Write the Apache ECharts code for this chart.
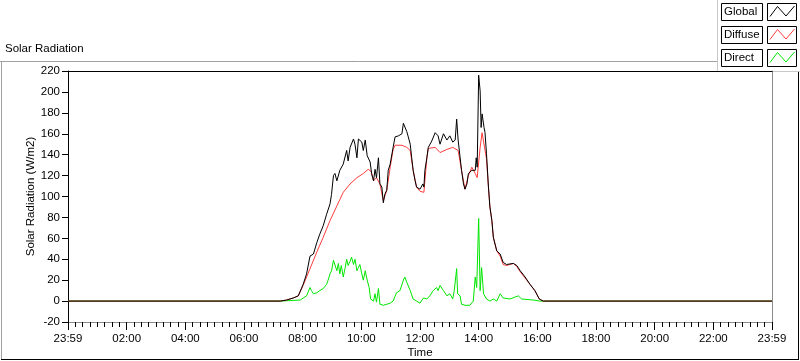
<!DOCTYPE html>
<html><head><meta charset="utf-8">
<script src="https://cdn.jsdelivr.net/npm/echarts@6/dist/echarts.min.js"></script>
<style>html,body{margin:0;padding:0;background:#fff}#c{width:800px;height:361px}</style>
</head><body><div id="c"></div>
<script>
// time in minutes after 23:59 (0 = 23:59, 1440 = 23:59 next)
const xTickLabels = ['23:59','02:00','04:00','06:00','08:00','10:00','12:00','14:00','16:00','18:00','20:00','22:00','23:59'];
const yTicks = [-20,0,20,40,60,80,100,120,140,160,180,200,220];

const globalT = [0,434,447,461,471,481,488,495,502,509,515,522,529,536,539,543,546,550,556,563,570,573,577,584,587,591,594,601,604,608,612,618,621,625,628,631,635,638,642,645,648,652,655,659,665,669,676,683,686,689,693,696,700,703,706,710,713,720,726,728,730,734,737,744,751,757,761,768,775,781,787,792,795,798,802,805,809,812,816,819,826,833,835,837,840,843,845,847,851,853,856,860,863,867,870,877,884,890,897,911,918,925,935,945,955,964,972,1440];
const globalV = [0,0,1,3,5,16,26,43,45,56,64,72,83,93,102,120,122,115,125,131,144,134,147,155,150,137,155,152,144,154,139,133,122,115,126,118,137,112,109,94,102,106,125,131,147,157,158,160,170,171,162,157,150,137,125,115,109,107,112,109,125,137,147,153,161,158,150,160,154,158,152,154,174,154,154,125,112,107,112,122,125,125,137,128,216,201,166,179,166,161,141,109,90,77,61,48,45,37,35,36,34,29,23,16,10,2,0,0];

const diffuseT = [0,434,447,461,471,481,495,509,522,536,550,563,577,591,604,614,620,625,631,638,645,652,659,665,669,683,693,700,706,713,720,728,734,737,751,761,775,787,798,805,812,819,826,833,837,843,847,851,856,860,863,867,870,877,884,890,897,911,918,925,935,945,955,964,972,1440];
const diffuseV = [0,0,1,3,5,15,31,47,61,77,91,104,112,118,122,126,124,115,118,112,96,106,128,145,149,149,147,144,125,109,105,104,137,146,147,142,145,147,144,125,107,120,128,122,118,147,161,160,136,109,90,77,61,48,43,35,34,36,33,28,22,16,10,2,0,0];

const directT = [0,434,475,488,495,498,502,509,515,522,529,532,536,539,543,546,550,553,556,559,563,567,570,573,577,580,584,587,591,594,597,601,604,608,612,616,619,625,628,631,635,638,645,659,665,672,679,686,689,693,700,706,713,720,727,734,740,747,754,757,761,768,775,781,787,790,795,797,802,805,812,822,829,833,836,840,843,846,850,853,856,863,870,877,884,890,904,921,928,952,965,1440];
const directV = [0,0,1,5,13,10,7,8,10,12,16,20,26,29,39,40,29,36,26,34,23,32,40,34,38,42,35,40,29,32,35,26,20,29,20,13,2,0,7,-1,12,-3,-4,-2,0,8,10,20,23,18,10,2,0,-2,3,2,5,10,13,10,15,10,5,7,2,10,31,7,5,-3,-4,-4,0,23,13,79,10,32,7,7,2,0,2,0,7,3,2,5,2,1,0,0];

const zip = (t, v) => t.map((x, i) => [x, v[i]]);
const FONT = 'Liberation Sans';

const chart = echarts.init(document.getElementById('c'), null, {renderer: 'canvas'});
const axisText = {color: '#000', fontFamily: FONT, fontSize: 11.5};

chart.setOption({
  animation: false,
  backgroundColor: '#fff',
  grid: {left: 68, right: 28, top: 71, bottom: 39, containLabel: false, outerBoundsMode: 'none'},
  xAxis: [{
    type: 'value', min: 0, max: 1440, interval: 120,
    name: 'Time', nameLocation: 'middle', nameGap: 25, nameMoveOverlap: false,
    nameTextStyle: axisText,
    axisLine: {show: true, onZero: false, lineStyle: {color: '#8c8c8c', width: 1}},
    axisTick: {show: true, length: 8, lineStyle: {color: '#000'}},
    minorTick: {show: true, splitNumber: 8, length: 5, lineStyle: {color: '#000'}},
    axisLabel: Object.assign({margin: 11, formatter: v => xTickLabels[Math.round(v / 120)]}, axisText),
    splitLine: {show: false}
  }, {
    type: 'value', min: 0, max: 1440, position: 'top',
    axisLine: {show: true, onZero: false, lineStyle: {color: '#000', width: 1}},
    axisTick: {show: false}, axisLabel: {show: false}, splitLine: {show: false}
  }],
  yAxis: [{
    type: 'value', min: yTicks[0], max: yTicks[yTicks.length - 1], interval: 20,
    name: 'Solar Radiation (W/m2)', nameLocation: 'middle', nameGap: 31, nameMoveOverlap: false,
    nameTextStyle: axisText,
    axisLine: {show: true, onZero: false, lineStyle: {color: '#000', width: 1}},
    axisTick: {show: true, length: 6, lineStyle: {color: '#000'}},
    axisLabel: Object.assign({margin: 8}, axisText),
    splitLine: {show: false}
  }, {
    type: 'value', min: -20, max: 220, position: 'right',
    axisLine: {show: true, onZero: false, lineStyle: {color: '#8c8c8c', width: 1}},
    axisTick: {show: false}, axisLabel: {show: false}, splitLine: {show: false}
  }],
  series: [
    {name: 'Direct', type: 'line', data: zip(directT, directV), showSymbol: false, symbol: 'none',
     lineStyle: {color: '#00e600', width: 1}, itemStyle: {color: '#00e600'}},
    {name: 'Diffuse', type: 'line', data: zip(diffuseT, diffuseV), showSymbol: false, symbol: 'none',
     lineStyle: {color: '#ff3c3c', width: 1}, itemStyle: {color: '#ff3c3c'}},
    {name: 'Global', type: 'line', data: zip(globalT, globalV), showSymbol: false, symbol: 'none',
     lineStyle: {color: '#000', width: 1}, itemStyle: {color: '#000'}}
  ],
  graphic: [
    {type: 'text', left: 5, top: 43, style: {text: 'Solar Radiation', fill: '#000', font: '11.5px "Liberation Sans"'}},
    // frame
    {type: 'line', shape: {x1: 0, y1: 61.5, x2: 717, y2: 61.5}, style: {stroke: '#a0a0a0', lineWidth: 1}},
    {type: 'line', shape: {x1: 1.5, y1: 61, x2: 1.5, y2: 359}, style: {stroke: '#a0a0a0', lineWidth: 1}},
    {type: 'line', shape: {x1: 1, y1: 359.5, x2: 799, y2: 359.5}, style: {stroke: '#000', lineWidth: 1}},
    {type: 'line', shape: {x1: 798.5, y1: 72, x2: 798.5, y2: 360}, style: {stroke: '#000', lineWidth: 1}},
    // legend panel
    {type: 'rect', shape: {x: 717, y: 0, width: 83, height: 72}, style: {fill: '#fff', stroke: null}},
    {type: 'line', shape: {x1: 717.5, y1: 0, x2: 717.5, y2: 72}, style: {stroke: '#c8c8c8', lineWidth: 1}},
    {type: 'line', shape: {x1: 717, y1: 71.5, x2: 800, y2: 71.5}, style: {stroke: '#c8c8c8', lineWidth: 1}},
    ...[['Global', '#000', 3.5], ['Diffuse', '#ff3c3c', 26.5], ['Direct', '#00e600', 49.5]].flatMap(([t, c, y]) => [
      {type: 'rect', shape: {x: 721.5, y: y, width: 41, height: 17}, style: {fill: '#fff', stroke: '#000', lineWidth: 1}},
      {type: 'text', x: 724, y: y + 2, style: {text: t, fill: '#000', font: '11.5px "Liberation Sans"'}},
      {type: 'rect', shape: {x: 767.5, y: y, width: 29, height: 17}, style: {fill: '#fff', stroke: '#000', lineWidth: 1}},
      {type: 'polyline', shape: {points: [[770, y + 13], [777.5, y + 3], [786, y + 12.5], [794.5, y + 2.5]]}, style: {stroke: c, lineWidth: 1, fill: null}}
    ])
  ]
});
</script></body></html>
